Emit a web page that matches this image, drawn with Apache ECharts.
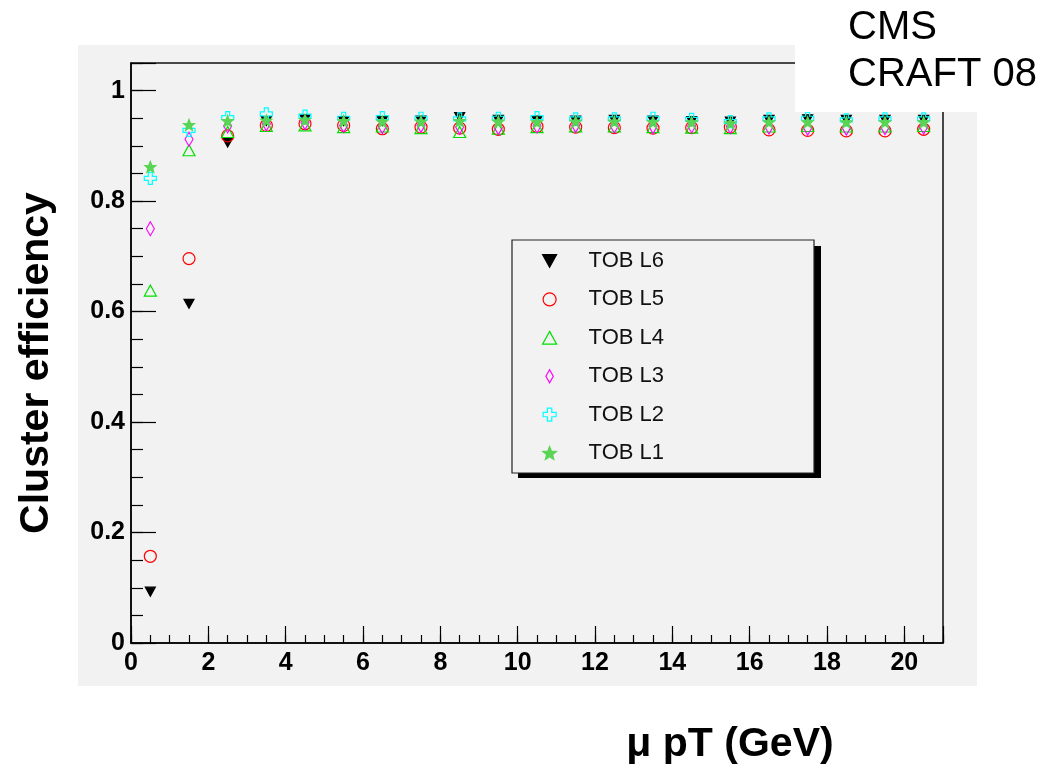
<!DOCTYPE html>
<html>
<head>
<meta charset="utf-8">
<title>Cluster efficiency vs muon pT</title>
<script src="https://cdn.jsdelivr.net/npm/echarts@6/dist/echarts.min.js"></script>
<style>
  html, body { margin: 0; padding: 0; background: #ffffff; }
  #chart { width: 1064px; height: 770px; }
</style>
</head>
<body>
<div id="chart"></div>
<script>
// Bin centres of the muon pT histogram (GeV)
const ptBins = [0.5, 1.5, 2.5, 3.5, 4.5, 5.5, 6.5, 7.5, 8.5, 9.5, 10.5,
                11.5, 12.5, 13.5, 14.5, 15.5, 16.5, 17.5, 18.5, 19.5, 20.5];

// Cluster efficiency per TOB layer
const tobL6 = [0.093, 0.614, 0.906, 0.945, 0.948, 0.945, 0.945, 0.946, 0.952, 0.947, 0.946,
               0.946, 0.947, 0.946, 0.945, 0.944, 0.947, 0.948, 0.947, 0.947, 0.947];
const tobL5 = [0.157, 0.696, 0.918, 0.937, 0.940, 0.937, 0.931, 0.934, 0.932, 0.930, 0.935,
               0.934, 0.933, 0.932, 0.933, 0.934, 0.929, 0.928, 0.927, 0.927, 0.930];
const tobL4 = [0.638, 0.892, 0.925, 0.936, 0.937, 0.934, 0.935, 0.932, 0.925, 0.931, 0.934,
               0.935, 0.935, 0.934, 0.933, 0.932, 0.935, 0.936, 0.935, 0.935, 0.936];
const tobL3 = [0.750, 0.912, 0.936, 0.940, 0.942, 0.937, 0.935, 0.937, 0.934, 0.933, 0.936,
               0.937, 0.936, 0.935, 0.936, 0.935, 0.934, 0.932, 0.932, 0.933, 0.934];
const tobL2 = [0.841, 0.928, 0.951, 0.958, 0.954, 0.950, 0.951, 0.950, 0.949, 0.950, 0.951,
               0.949, 0.949, 0.950, 0.948, 0.944, 0.949, 0.950, 0.947, 0.949, 0.949];
const tobL1 = [0.862, 0.938, 0.945, 0.946, 0.947, 0.945, 0.944, 0.944, 0.945, 0.944, 0.943,
               0.944, 0.944, 0.943, 0.943, 0.941, 0.943, 0.943, 0.943, 0.943, 0.943];

const layerNames = ['TOB L6', 'TOB L5', 'TOB L4', 'TOB L3', 'TOB L2', 'TOB L1'];
const layerValues = [tobL6, tobL5, tobL4, tobL3, tobL2, tobL1];

// Axis ranges and labels
const xMax = 21;
const yMax = 1.05;
const xTitle = 'μ pT (GeV)';
const yTitle = 'Cluster efficiency';
const stampLines = ['CMS', 'CRAFT 08'];

const FONT = "'Liberation Sans', Arial, Helvetica, sans-serif";
const PANEL = '#f2f2f2';

// Marker styles (ROOT-like markers); paths keep their aspect in the legend
const starPath = 'path://M5,0L6.29,3.22L9.76,3.45L7.09,5.68L7.94,9.05L5,7.2L2.06,9.05L2.91,5.68L0.24,3.45L3.71,3.22Z';
const markerStyles = [
  { symbol: 'path://M0,0L10,0L5,9Z', size: [10, 9], fill: '#000000', stroke: '#000000' },
  { symbol: 'circle', size: 12, fill: 'rgba(0,0,0,0)', stroke: '#ff0000' },
  { symbol: 'path://M6,0L12,11L0,11Z', size: [12, 11], fill: 'rgba(0,0,0,0)', stroke: '#00e000' },
  { symbol: 'path://M4,0L8,7L4,14L0,7Z', size: [8, 14], fill: 'rgba(0,0,0,0)', stroke: '#ff00ff' },
  { symbol: 'path://M4,0H8V4H12V8H8V12H4V8H0V4H4Z', size: 12, fill: 'rgba(0,0,0,0)', stroke: '#00ffff' },
  { symbol: starPath, size: 11, fill: '#59d454', stroke: '#59d454' }
];

const series = layerNames.map((name, i) => ({
  name: name,
  type: 'scatter',
  xAxisIndex: 0,
  yAxisIndex: 0,
  data: ptBins.map((x, j) => [x, layerValues[i][j]]),
  symbol: markerStyles[i].symbol,
  symbolSize: markerStyles[i].size,
  itemStyle: {
    color: markerStyles[i].fill,
    borderColor: markerStyles[i].stroke,
    borderWidth: 1.2,
    opacity: 1
  },
  emphasis: { disabled: true },
  z: 3 + i
}));

const boldLabel = { fontFamily: FONT, fontWeight: 'bold', fontSize: 25, color: '#000' };

// Legend box geometry
const legendBox = { x: 512, y: 240, w: 303, h: 232 };

const option = {
  animation: false,
  backgroundColor: '#ffffff',
  grid: {
    left: 131, right: 121, top: 63, bottom: 127,
    show: true,
    backgroundColor: PANEL,
    borderColor: '#111',
    borderWidth: 1.5
  },
  xAxis: [
    {
      type: 'value', position: 'bottom', min: 0, max: xMax, interval: 2,
      axisLine: { show: true, lineStyle: { color: '#000', width: 1.5 } },
      axisTick: { show: true, inside: true, length: 17, lineStyle: { color: '#000', width: 1.2 } },
      axisLabel: Object.assign({ margin: 8, formatter: v => (v % 2 === 0 ? String(v) : '') }, boldLabel),
      splitLine: { show: false }
    },
    {
      type: 'value', position: 'bottom', min: 0, max: xMax, interval: 0.5,
      axisLine: { show: false },
      axisTick: { show: true, inside: true, length: 8, lineStyle: { color: '#000', width: 1.2 } },
      axisLabel: { show: false },
      splitLine: { show: false }
    }
  ],
  yAxis: [
    {
      type: 'value', position: 'left', min: 0, max: yMax, interval: 0.2,
      axisLine: { show: true, lineStyle: { color: '#000', width: 1.5 } },
      axisTick: { show: true, inside: true, length: 25, lineStyle: { color: '#000', width: 1.2 } },
      axisLabel: Object.assign({ margin: 6, formatter: v => (v > 1.0001 ? '' : String(+v.toFixed(1))) }, boldLabel),
      splitLine: { show: false }
    },
    {
      type: 'value', position: 'left', min: 0, max: yMax, interval: 0.05,
      axisLine: { show: false },
      axisTick: { show: true, inside: true, length: 12, lineStyle: { color: '#000', width: 1.2 } },
      axisLabel: { show: false },
      splitLine: { show: false }
    }
  ],
  legend: {
    orient: 'vertical',
    left: legendBox.x,
    top: legendBox.y,
    padding: [10, 150, 9, 30],
    itemWidth: 14,
    itemHeight: 13,
    itemGap: 16.4,
    selectedMode: false,
    backgroundColor: PANEL,
    borderColor: '#222',
    borderWidth: 1.2,
    itemStyle: { borderWidth: 1.2 },
    textStyle: { fontFamily: FONT, fontSize: 22, lineHeight: 22, color: '#111', padding: [0, 0, 0, 27] },
    data: layerNames
  },
  graphic: [
    { type: 'rect', z: -10, shape: { x: 78, y: 45, width: 899, height: 641 }, style: { fill: PANEL } },
    // drop shadow behind the legend box
    { type: 'rect', z: 2, shape: { x: legendBox.x + 6, y: legendBox.y + 6, width: legendBox.w, height: legendBox.h }, style: { fill: '#000' } },
    { type: 'rect', z: 100, shape: { x: 795, y: 0, width: 269, height: 112 }, style: { fill: '#ffffff' } },
    { type: 'text', z: 101, x: 848, y: 28, style: { text: stampLines[0], font: '40px ' + FONT, fill: '#000', textVerticalAlign: 'middle' } },
    { type: 'text', z: 101, x: 848, y: 75, style: { text: stampLines[1], font: '40px ' + FONT, fill: '#000', textVerticalAlign: 'middle' } },
    { type: 'text', z: 101, x: 730, y: 745, style: { text: xTitle, font: 'bold 41px ' + FONT, fill: '#000', textAlign: 'center', textVerticalAlign: 'middle' } },
    { type: 'text', z: 101, x: 37, y: 363, rotation: Math.PI / 2, style: { text: yTitle, font: 'bold 41px ' + FONT, fill: '#000', textAlign: 'center', textVerticalAlign: 'middle' } }
  ],
  series: series
};

const chart = echarts.init(document.getElementById('chart'), null, { renderer: 'canvas' });
chart.setOption(option);
</script>
</body>
</html>
